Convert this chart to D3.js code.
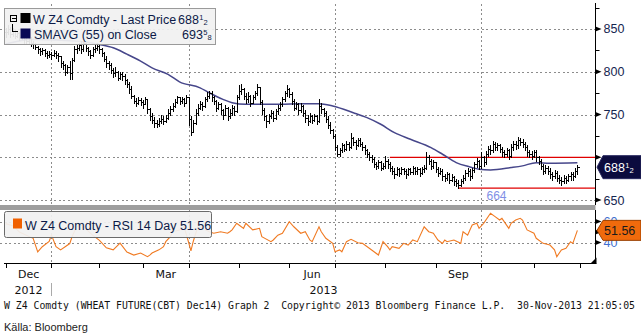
<!DOCTYPE html>
<html><head><meta charset="utf-8">
<script src="https://cdn.jsdelivr.net/npm/d3@7"></script>
<style>body{margin:0;background:#fff}svg{display:block}</style>
</head><body><svg id="c" width="641" height="336"></svg>
<script>
// Daily bars, W Z4 (CBOT wheat Dec14), trading-day index 0 = first session of Dec 2012
const close = [
846,850,844,848,842,845,840,843,838,836,839,834,
832,829,826,824,825,822,820,821,819,
822,820,818,810,808,800,805,798,
814,826,
828,831,826,833,828,824,820,826,828,830,827,822,
815,810,808,802,798,
800,793,797,
795,790,786,780,772,
766,764,767,765,762,768,
756,748,744,740,739,
742,745,743,746,
752,756,760,
765,770,766,768,764,770,
745,730,740,
752,758,762,760,
768,772,775,770,766,
758,762,755,750,758,
748,752,758,754,
770,778,780,772,
768,772,764,770,775,782,
765,755,748,742,
748,752,746,754,758,
762,768,775,780,774,
766,758,762,755,760,
752,746,742,748,
744,748,742,
760,756,752,
745,738,732,
725,712,704,708,
714,710,716,712,
722,718,714,720,716,
712,708,704,700,
698,692,690,694,688,690,
696,692,688,
684,680,686,682,
686,684,680,686,683,687,
684,686,682,686,688,
700,696,690,694,
686,682,684,
678,676,680,674,677,672,
670,668,672,676,
682,684,678,685,
692,696,690,700,
694,704,710,708,
716,712,714,710,
706,704,708,702,
712,716,714,720,718,
716,712,706,
704,702,706,700,
696,690,684,688,
684,680,678,682,676,
674,672,676,674,678,
680,678,684,688.5];

const high = [
851,854,852,851,849,848,846,846,844,841,842,840,
836,834,830,828,828,827,824,824,823,
825,824,822,818,812,809,808,812,
816,830,
832,834,836,836,834,829,825,829,831,834,832,828,
823,818,813,810,804,
806,801,800,
800,797,792,788,783,
773,769,770,769,767,770,
768,758,752,747,744,
746,749,748,750,
756,760,764,
768,772,771,771,769,773,
770,748,744,
756,762,766,765,
771,776,778,777,772,
767,765,763,757,761,
759,756,761,760,
773,785,786,781,
775,776,773,773,778,786,
782,767,758,750,
751,755,754,757,761,
765,771,778,784,781,
776,768,765,763,763,
761,755,749,752,
750,751,750,
768,763,758,
754,748,741,
733,727,714,711,
717,716,719,718,
728,724,720,723,722,
718,714,710,706,
703,700,695,697,696,693,
702,698,694,
690,687,689,688,
689,688,686,688,688,690,
689,689,687,689,691,
706,703,698,697,
695,689,687,
686,681,683,682,680,678,
675,673,675,679,
685,688,686,688,
695,699,697,706,
702,707,713,714,
719,718,717,716,
712,709,711,710,
715,719,719,724,723,
721,718,714,
709,707,709,708,
702,698,692,691,
690,687,683,685,684,
679,677,679,678,681,
683,683,687,691];

const low = [
841,844,841,842,839,840,837,838,834,832,834,830,
828,826,822,820,821,818,816,817,815,
818,816,812,806,803,796,799,791,
792,812,
822,825,822,824,824,819,816,818,823,825,822,818,
812,806,803,798,794,
795,790,791,
790,786,782,775,769,
763,760,762,761,758,762,
752,744,740,736,735,
737,740,739,741,
745,750,754,
759,764,762,763,760,764,
738,726,729,
739,750,756,755,
759,766,769,766,762,
754,756,751,745,749,
744,746,750,750,
753,768,774,768,
764,765,760,763,768,773,
762,751,744,736,
740,746,742,745,751,
755,760,766,772,770,
762,755,756,751,753,
748,741,738,741,
740,742,739,
741,752,748,
741,734,728,
722,708,701,702,
706,707,709,709,
711,714,710,713,713,
709,704,700,697,
694,689,686,688,685,686,
688,688,684,
680,676,679,678,
680,680,676,679,680,681,
680,681,678,680,683,
686,692,686,688,
683,678,680,
674,672,674,670,672,668,
666,664,666,670,
674,678,674,676,
683,689,686,688,
690,692,702,704,
706,708,709,706,
702,700,702,698,
700,708,710,711,714,
712,708,702,
700,698,700,696,
692,686,680,682,
680,676,673,676,672,
670,668,670,670,672,
674,674,677,681];

// 55-day simple moving average of the close, sampled at these sessions
const smaIdx = [0,12,32,41,47,53,59,64,71,76,85,89,95,99,105,114,120,129,137,143,152,158,164,170,177,186,191,197,203,207,212,221,226,232,238,250];
const smaVal = [832.5,837.6,835.7,831.8,827.9,820.5,812.4,804.5,796.9,788.2,781.2,775.4,767.7,763.8,761.9,761.9,761.9,762.6,762.6,759.9,752.1,746.3,738.6,728.8,721.1,711.3,703.6,693.8,688.8,686.1,685.3,688,690,693.8,693.1,693.625];

// RSI 14 day
const rsiIdx = [0,3,6,9,12,14,16,19,20,22,24,26,28,29,31,33,35,38,41,44,
47,50,53,56,59,62,63,64,67,69,70,72,73,76,78,80,81,82,84,86,
89,91,94,97,98,99,101,102,104,105,108,111,112,116,117,119,121,124,126,129,
131,133,134,137,138,140,143,144,146,147,149,151,154,156,159,163,165,167,168,169,
172,174,176,178,180,183,185,187,189,191,192,193,196,199,200,202,203,204,206,207,
209,212,214,216,217,220,221,223,225,226,228,231,232,235,238,240,241,243,245,247,
248,250];
const rsiVal = [58,56,50,47,44,31,36,41,47,36,33,36,39,45.5,55,57,53,47,42,35,
33,39.5,31,28,30,26.5,28,30,33,36,40.8,45.5,50.3,52,55,40,32,41,55,53.5,
50.3,48.8,50.3,48.8,50.3,52,58.3,56.7,53.5,58.3,52,53.5,45.5,40.8,42.4,47,48.8,59.8,55,48.8,
50.3,42.4,40.8,55,50.3,44,39.2,31.2,33,31.2,40.8,43,39.8,39.2,34.5,28.1,40.8,36,33,36,
34.5,39.2,37.6,42.4,40.8,55,50.3,48.8,42.4,39.2,42.4,40.8,42.4,39.2,50.3,47,52,56.7,58.3,53.5,
58.3,67.8,64.6,61.4,63,53.5,58.3,61.4,63,61.4,52,48.8,44,39.2,37.6,33,26.5,33,34.5,40.8,
39.2,51.56];

const priceTicks = [650,700,750,800,850];
const priceLabels = [650,750,800,850];   // 700 sits under the last-price tag
const priceMinor = [675,725,775,825,875];
const rsiTicks = [40,50,60];
const rsiLabels = [40,60];
const monthStarts = [0,20,41,60,80,102,124,144,166,188,208,231,251];
const quarterStarts = [20,80,144,208];
const monthLabels = [["Dec",0,20],["Mar",60,80],["Jun",124,144],["Sep",188,208]];
const yearLabels = [["2012",0,20],["2013",20,null]];
const resistance = 700, resistanceFrom = 168;
const support = 664, supportFrom = 198;
const lastPrice = close[close.length-1];
const lastSma = smaVal[smaVal.length-1];
const lastRsi = rsiVal[rsiVal.length-1];

const svg = d3.select("#c");
const axisX = 595.5;
const x = d3.scaleLinear().domain([-2.5, 257.7]).range([0, 595]);
const yP = d3.scaleLinear().domain([644.3, 879.1]).range([205, 4]);
const yR = d3.scaleLinear().domain([20.5, 70]).range([263, 211]);
const cx = v => Math.round(v) + 0.5;
const SANS = "'Liberation Sans', Arial, sans-serif";

// split a price into whole units and eighths
function eighths(v){
  const w = Math.floor(v); let n = Math.round((v - w) * 8), d = 8;
  while (n && n % 2 === 0) { n /= 2; d /= 2; }
  return [String(w), n ? String(n) : "", n ? String(d) : ""];
}
function fracText(g, xPos, yPos, v, size, fill){
  const [w, n, d] = eighths(v);
  const t = g.append("text").attr("x", xPos).attr("y", yPos)
    .attr("font-family", SANS).attr("font-size", size).attr("fill", fill);
  t.append("tspan").text(w);
  if (n) {
    t.append("tspan").attr("font-size", size*0.6).attr("dy", -4).attr("dx", 0.5).text(n);
    t.append("tspan").attr("font-size", size*0.6).attr("dy", 5).text(d);
  }
  return t;
}

// gridlines
const grid = svg.append("g").attr("stroke", "#8c8c8c").attr("stroke-width", 1)
  .attr("stroke-dasharray", "2,2.5").attr("shape-rendering", "crispEdges");
grid.selectAll(".hp").data(priceTicks).join("line")
  .attr("x1", 0).attr("x2", axisX).attr("y1", d => cx(yP(d))).attr("y2", d => cx(yP(d)));
grid.selectAll(".hr").data(rsiTicks.filter(t => t !== 50)).join("line").attr("class", "hr")
  .attr("x1", 0).attr("x2", axisX).attr("y1", d => cx(yR(d))).attr("y2", d => cx(yR(d)));
quarterStarts.forEach(q => {
  grid.append("line").attr("x1", cx(x(q))).attr("x2", cx(x(q))).attr("y1", 4).attr("y2", 205);
  grid.append("line").attr("x1", cx(x(q))).attr("x2", cx(x(q))).attr("y1", 210).attr("y2", 263);
});

// panel separator
svg.append("rect").attr("x", 0).attr("y", 205).attr("width", axisX).attr("height", 5).attr("fill", "#9e9e9e");

// support / resistance
const lv = svg.append("g").attr("stroke", "#e00000").attr("stroke-width", 1.2);
lv.append("line").attr("x1", x(resistanceFrom)).attr("x2", axisX).attr("y1", yP(resistance)).attr("y2", yP(resistance));
lv.append("line").attr("x1", x(supportFrom)).attr("x2", axisX).attr("y1", yP(support)).attr("y2", yP(support));
svg.append("text").attr("x", x(supportFrom) + 28).attr("y", yP(support) + 12)
  .attr("font-family", SANS).attr("font-size", 12).attr("fill", "#7f8fe6").text(support);

// SMA line
const sma = smaIdx.map((d, k) => ({i: d, v: smaVal[k]}));
svg.append("path").datum(sma)
  .attr("d", d3.line().x(d => x(d.i)).y(d => yP(d.v)).curve(d3.curveMonotoneX))
  .attr("fill", "none").attr("stroke", "#46468a").attr("stroke-width", 1.5);

// OHLC-style bars (left tick = prior close, right tick = close)
const bars = svg.append("g").attr("stroke", "#000").attr("stroke-width", 1).attr("shape-rendering", "crispEdges");
const bd = close.map((c, i) => ({i, c, h: high[i], l: low[i], o: i ? close[i-1] : c}));
bars.selectAll(".v").data(bd).join("line")
  .attr("x1", d => cx(x(d.i))).attr("x2", d => cx(x(d.i)))
  .attr("y1", d => Math.round(yP(d.h))).attr("y2", d => Math.round(yP(d.l)) + 1);
bars.selectAll(".o").data(bd).join("line").attr("class", "o")
  .attr("x1", d => cx(x(d.i)) - 2).attr("x2", d => cx(x(d.i)))
  .attr("y1", d => cx(yP(d.o))).attr("y2", d => cx(yP(d.o)));
bars.selectAll(".k").data(bd).join("line").attr("class", "k")
  .attr("x1", d => cx(x(d.i))).attr("x2", d => cx(x(d.i)) + 2)
  .attr("y1", d => cx(yP(d.c))).attr("y2", d => cx(yP(d.c)));

// RSI line
const rsi = rsiIdx.map((d, k) => ({i: d, v: rsiVal[k]}));
svg.append("path").datum(rsi)
  .attr("d", d3.line().x(d => x(d.i)).y(d => yR(d.v)))
  .attr("fill", "none").attr("stroke", "#f07a22").attr("stroke-width", 1.1);

// right axes
const pAxis = svg.append("g").attr("transform", `translate(${axisX},0)`)
  .call(d3.axisRight(yP).tickValues(priceLabels).tickSize(0).tickPadding(8).tickFormat(d3.format("d")));
pAxis.select(".domain").remove();
pAxis.selectAll("text").attr("font-family", SANS).attr("font-size", 12.5).attr("fill", "#152550");
const rAxis = svg.append("g").attr("transform", `translate(${axisX},0)`)
  .call(d3.axisRight(yR).tickValues(rsiLabels).tickSize(0).tickPadding(8).tickFormat(d3.format("d")));
rAxis.select(".domain").remove();
rAxis.selectAll("text").attr("font-family", SANS).attr("font-size", 12.5).attr("fill", "#3f6fd0");

const ax = svg.append("g").attr("stroke", "#000").attr("stroke-width", 1);
ax.append("line").attr("x1", axisX).attr("x2", axisX).attr("y1", 3).attr("y2", 205);
ax.append("line").attr("x1", axisX).attr("x2", axisX).attr("y1", 210).attr("y2", 263);
ax.selectAll(".mn").data(priceMinor).join("line").attr("class", "mn")
  .attr("x1", axisX).attr("x2", axisX + 4).attr("y1", d => cx(yP(d))).attr("y2", d => cx(yP(d)));
const tri = y => `M${axisX},${y - 2.5}L${axisX + 6},${y}L${axisX},${y + 2.5}Z`;
svg.selectAll(".tp").data(priceTicks).join("path").attr("class", "tp").attr("d", d => tri(yP(d))).attr("fill", "#000");
svg.selectAll(".tr").data(rsiTicks).join("path").attr("class", "tr").attr("d", d => tri(yR(d))).attr("fill", "#000");

// time axis
ax.append("line").attr("x1", 4).attr("x2", axisX + 1).attr("y1", 263.5).attr("y2", 263.5);
ax.selectAll(".mt").data(monthStarts).join("line").attr("class", "mt")
  .attr("x1", d => cx(x(d))).attr("x2", d => cx(x(d))).attr("y1", 263).attr("y2", 268);
svg.append("path").attr("d", `M${axisX - 5},263.5L${axisX + 1},257.5L${axisX + 1},263.5Z`).attr("fill", "#000");

svg.selectAll(".ml").data(monthLabels).join("text").attr("class", "ml")
  .attr("x", d => (x(d[1]) + x(d[2])) / 2).attr("y", 278).attr("text-anchor", "middle")
  .attr("font-family", "'DejaVu Sans', sans-serif").attr("font-size", 11).attr("fill", "#111").text(d => d[0]);
svg.selectAll(".yl").data(yearLabels).join("text").attr("class", "yl")
  .attr("x", d => (x(d[1]) + (d[2] === null ? axisX : x(d[2]))) / 2).attr("y", 294).attr("text-anchor", "middle")
  .attr("font-family", "'DejaVu Sans', sans-serif").attr("font-size", 11).attr("fill", "#111").text(d => d[0]);
svg.append("line").attr("x1", cx(x(20))).attr("x2", cx(x(20))).attr("y1", 283).attr("y2", 296)
  .attr("stroke", "#aaa");

// price legend
const lg = svg.append("g");
lg.append("rect").attr("x", 4.5).attr("y", 8.5).attr("width", 211).attr("height", 36)
  .attr("fill", "#f1f1f1").attr("fill-opacity", 0.93).attr("stroke", "#9a9a9a");
const ic = lg.append("g").attr("stroke", "#000").attr("fill", "none").attr("shape-rendering", "crispEdges");
ic.append("rect").attr("x", 10.5).attr("y", 15.5).attr("width", 6).attr("height", 6);
ic.append("line").attr("x1", 12).attr("x2", 16).attr("y1", 18.5).attr("y2", 18.5);
ic.append("path").attr("d", "M12.5,24V31.5H18");
lg.append("rect").attr("x", 20.5).attr("y", 13).attr("width", 10).attr("height", 10).attr("fill", "#000");
lg.append("rect").attr("x", 20.5).attr("y", 28.5).attr("width", 10).attr("height", 10).attr("fill", "#0a0a55");
lg.append("text").attr("x", 33).attr("y", 23.5).attr("font-family", SANS).attr("font-size", 12.5)
  .attr("fill", "#0c1a48").text("W Z4 Comdty - Last Price");
fracText(lg, 178, 23.5, lastPrice, 12.5, "#0c1a48");
lg.append("text").attr("x", 34).attr("y", 38.5).attr("font-family", SANS).attr("font-size", 12.5)
  .attr("fill", "#0c1a48").text("SMAVG (55) on Close");
fracText(lg, 182, 38.5, lastSma, 12.5, "#0c1a48");

// RSI legend
const lr = svg.append("g");
lr.append("rect").attr("x", 4.5).attr("y", 211.5).attr("width", 207).attr("height", 26).attr("rx", 2)
  .attr("fill", "#f1f1f1").attr("fill-opacity", 0.93).attr("stroke", "#6a6a6a");
lr.append("rect").attr("x", 13).attr("y", 218.5).attr("width", 9).attr("height", 10).attr("fill", "#f06000");
lr.append("text").attr("x", 25).attr("y", 229.5).attr("font-family", SANS).attr("font-size", 12.5)
  .attr("fill", "#0c1a48").text("W Z4 Comdty - RSI 14 Day " + lastRsi.toFixed(2));

// last-value tags on the right axis
const tag = (yc, h) => `M597,${yc}L603,${yc - h}H641V${yc + h}H603Z`;
const yl = yP(lastPrice);
svg.append("path").attr("d", tag(yl, 11.5)).attr("fill", "#0b0b3e").attr("stroke", "#2a2a60");
fracText(svg, 604, yl + 4.5, lastPrice, 12.5, "#fff");
const yr = yR(lastRsi);
svg.append("path").attr("d", tag(yr, 10)).attr("fill", "#f06a0c").attr("stroke", "#9a4000");
svg.append("text").attr("x", 604).attr("y", yr + 4.5).attr("font-family", SANS).attr("font-size", 12.5)
  .attr("fill", "#1a1a1a").text(lastRsi.toFixed(2));

// footer
svg.append("text").attr("x", 4).attr("y", 309).attr("font-family", "'DejaVu Sans Mono', monospace")
  .attr("font-size", 9.8).attr("fill", "#111").attr("textLength", 631).attr("lengthAdjust", "spacingAndGlyphs")
  .attr("xml:space", "preserve")
  .text("W Z4 Comdty (WHEAT FUTURE(CBT) Dec14) Graph 2  Copyright\u00a9 2013 Bloomberg Finance L.P.  30-Nov-2013 21:05:05");
svg.append("text").attr("x", 4).attr("y", 331).attr("font-family", SANS).attr("font-size", 11)
  .attr("fill", "#222").text("Källa: Bloomberg");
</script>
</body></html>
